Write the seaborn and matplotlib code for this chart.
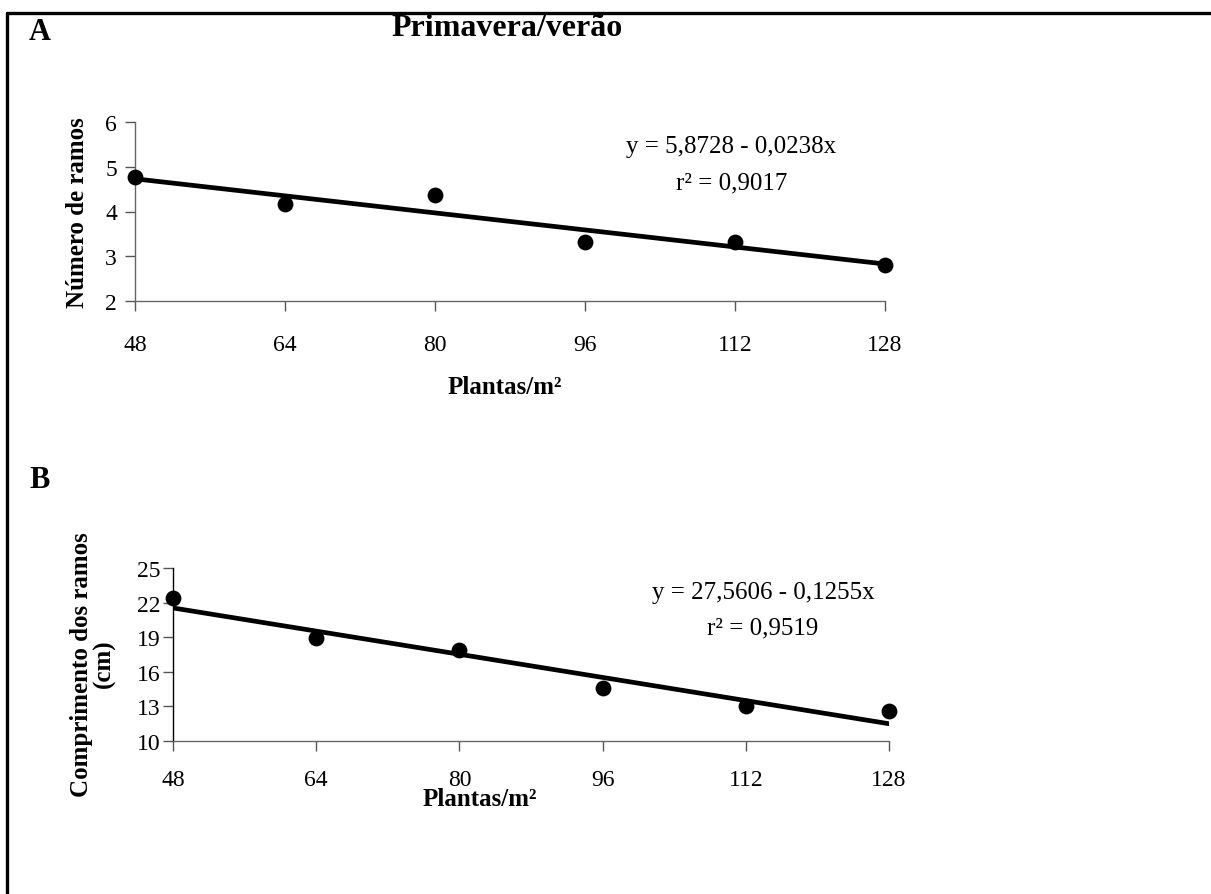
import matplotlib
matplotlib.use("Agg")
import matplotlib.pyplot as plt
import seaborn as sns
import numpy as np
from matplotlib.lines import Line2D

# ---- data ----
plantas = [48, 64, 80, 96, 112, 128]
ramos_a = [4.77, 4.16, 4.36, 3.32, 3.32, 2.80]
comprimento_b = [22.4, 18.95, 17.9, 14.6, 13.05, 12.6]
coef_a = (5.8728, -0.0238)
coef_b = (27.5606, -0.1255)
eq_a = ["y = 5,8728 - 0,0238x", "r² = 0,9017"]
eq_b = ["y = 27,5606 - 0,1255x", "r² = 0,9519"]
xticks = [48, 64, 80, 96, 112, 128]
yticks_a = [2, 3, 4, 5, 6]
yticks_b = [10, 13, 16, 19, 22, 25]

sns.set_theme(style="ticks")
plt.rcParams["font.family"] = ["Liberation Serif", "DejaVu Serif"]
plt.rcParams["axes.linewidth"] = 1.0
plt.rcParams["text.color"] = "black"
plt.rcParams["axes.labelcolor"] = "black"

W, H = 1211, 895
fig = plt.figure(figsize=(W / 100, H / 100), dpi=100)
fig.patch.set_facecolor("white")


def rect(l, r, t, b):
    return [l / W, 1 - b / H, (r - l) / W, (b - t) / H]


axA = fig.add_axes(rect(135, 885, 123, 302))
axB = fig.add_axes(rect(173, 889, 569, 742))

TICK_FS = 17
EQ_FS = 18
LAB_FS = 18


def draw(ax, y, coef, yticks, ylim, eq, eqpos, xpad, ypad, leftcol):
    sns.scatterplot(x=plantas, y=y, ax=ax, color="black", s=130,
                    edgecolor="black", linewidth=0, zorder=3, clip_on=False)
    xl = np.array([plantas[0], plantas[-1]])
    sns.lineplot(x=xl, y=coef[0] + coef[1] * xl, ax=ax, color="black",
                 linewidth=3.4, zorder=2)
    ax.set_xlim(48, 128)
    ax.set_ylim(*ylim)
    ax.set_xticks(xticks)
    ax.set_yticks(yticks)
    ax.tick_params(axis="both", direction="out", length=7, width=1.0,
                   labelsize=TICK_FS, colors="#555555", labelcolor="black")
    ax.tick_params(axis="x", pad=xpad)
    ax.tick_params(axis="y", pad=ypad)
    sns.despine(ax=ax)
    ax.spines["left"].set_color(leftcol)
    ax.spines["bottom"].set_color("#666666")
    ax.set_facecolor("white")
    ax.text(eqpos[0], eqpos[1], eq[0], transform=ax.transAxes,
            ha="center", va="center", fontsize=EQ_FS, color="black")
    ax.text(eqpos[0], eqpos[2], eq[1], transform=ax.transAxes,
            ha="center", va="center", fontsize=EQ_FS, color="black")


draw(axA, ramos_a, coef_a, yticks_a, (2, 6), eq_a, (0.795, 0.866, 0.665),
     17, 6, "#666666")
draw(axB, comprimento_b, coef_b, yticks_b, (10, 25), eq_b, (0.824, 0.861, 0.659),
     13, 2, "black")

axA.set_ylabel("Número de ramos", fontsize=LAB_FS, fontweight="bold", va="center")
axA.yaxis.set_label_coords(-0.077, 0.5)
axA.set_xlabel("Plantas/m²", fontsize=LAB_FS, fontweight="bold", va="center")
axA.xaxis.set_label_coords(0.493, -0.48)

axB.set_ylabel("Comprimento dos ramos\n(cm)", fontsize=LAB_FS, fontweight="bold",
               va="center", linespacing=1.0)
axB.yaxis.set_label_coords(-0.112, 0.45)
axB.set_xlabel("Plantas/m²", fontsize=LAB_FS, fontweight="bold", va="center")
axB.xaxis.set_label_coords(0.429, -0.335)

fig.text(40 / W, 1 - 33 / H, "A", fontsize=22, fontweight="bold",
         ha="center", va="center")
fig.text(40 / W, 1 - 481 / H, "B", fontsize=22, fontweight="bold",
         ha="center", va="center")
fig.text(507 / W, 1 - 28 / H, "Primavera/verão", fontsize=23,
         fontweight="bold", ha="center", va="center")

# figure frame (top and left edges)
fig.add_artist(Line2D([7 / W, 1.0], [1 - 14 / H, 1 - 14 / H],
                      transform=fig.transFigure, color="black", linewidth=2.4))
fig.add_artist(Line2D([7 / W, 7 / W], [0.0, 1 - 14 / H],
                      transform=fig.transFigure, color="black", linewidth=2.4))

fig.savefig("out.png", dpi=100, facecolor="white")
